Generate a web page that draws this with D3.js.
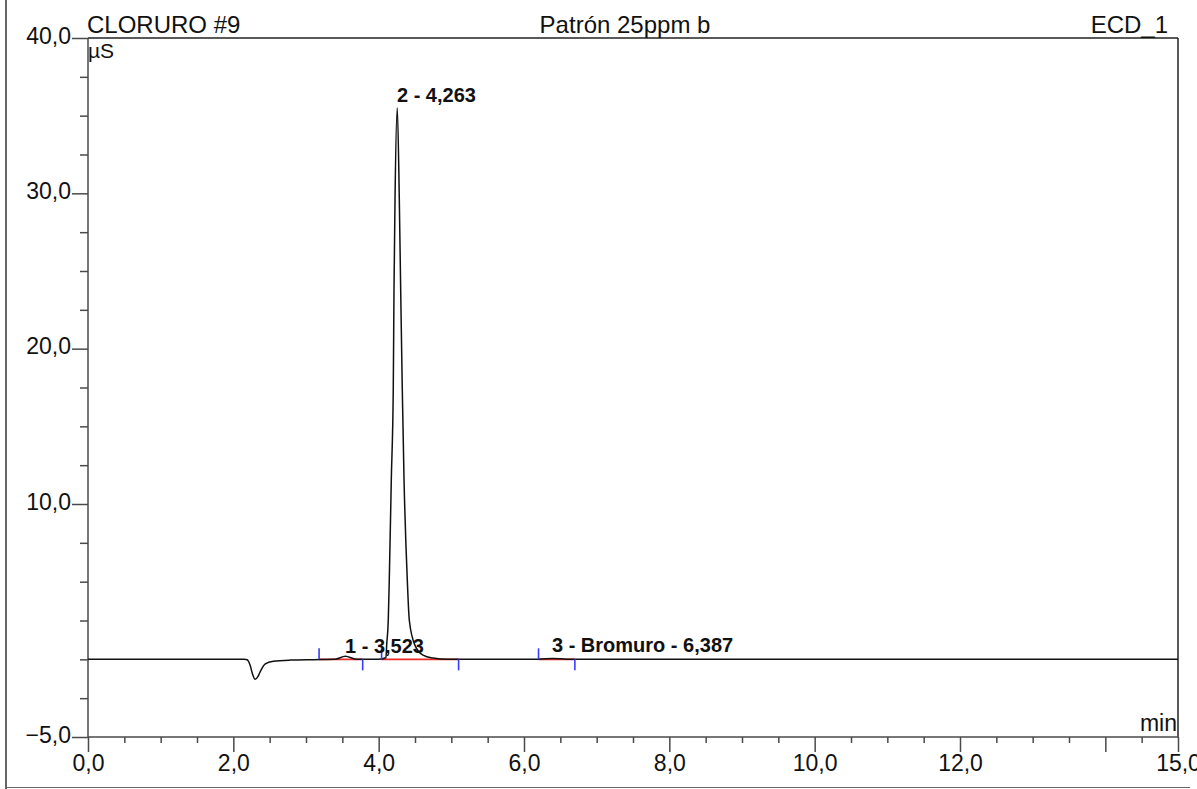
<!DOCTYPE html>
<html>
<head>
<meta charset="utf-8">
<script src="https://cdn.jsdelivr.net/npm/d3@7"></script>
<style>
  html, body { margin: 0; padding: 0; background: #fff; }
  svg { display: block; }
  text { font-family: "Liberation Sans", Arial, sans-serif; fill: #111; }
</style>
</head>
<body>
<svg id="chart" width="1197" height="789"></svg>
<script>
// ---- Data ----
const timeMin = [0, 2.0, 2.15, 2.19, 2.23, 2.26, 2.30, 2.34, 2.37, 2.44, 2.55, 2.78, 3.1,
  3.4, 3.54, 3.7, 4.0, 4.10, 4.11, 4.132, 4.146, 4.174, 4.201, 4.211, 4.225, 4.256,
  4.284, 4.303, 4.325, 4.349, 4.394, 4.422, 4.50, 4.61, 4.75, 4.95, 6.2, 6.39, 6.6, 15];
const signalUS = [0, 0, 0, -0.03, -0.37, -0.88, -1.29, -1.1, -0.8, -0.3, -0.13, -0.05, -0.02,
  0.0, 0.2, 0.0, 0.0, 0.1, 0.9, 2.5, 5.1, 11.6, 17.4, 23.8, 29.6, 35.5,
  29.6, 23.8, 17.4, 11.6, 5.1, 2.5, 0.9, 0.27, 0.08, 0.0, 0.0, 0.06, 0.0, 0.0];

const peakNames = ["1 - 3,523", "2 - 4,263", "3 - Bromuro - 6,387"];
const peakLabelTime = [3.537, 4.252, 6.385];
const peakLabelValue = [0.39, 35.86, 0.45];
const peakStart = [3.18, 4.04, 6.20];
const peakEnd = [3.78, 5.10, 6.70];

const xMajorTicks = [0, 2, 4, 6, 8, 10, 12, 14, 15];
const xLabelTicks = [0, 2, 4, 6, 8, 10, 12, 15];
const yMajorTicks = [-5, 10, 20, 30, 40];
const xDomain = [0, 15];
const yDomain = [-5, 40];

const titleLeft = "CLORURO #9";
const titleCenter = "Patrón 25ppm b";
const titleRight = "ECD_1";
const yUnit = "µS";
const xUnit = "min";

// ---- Drawing ----
const svg = d3.select("#chart");
const x = d3.scaleLinear().domain(xDomain).range([88, 1178]);
const y = d3.scaleLinear().domain(yDomain).range([737, 38]);
const fmt = v => d3.format(".1f")(v).replace(".", ",");
const axisColor = "#4a4a4a";

// outer frame lines
svg.append("line").attr("x1", 6).attr("x2", 6).attr("y1", 0).attr("y2", 789)
  .attr("stroke", "#333").attr("stroke-width", 1.5);
svg.append("line").attr("x1", 6).attr("x2", 1190).attr("y1", 787.5).attr("y2", 787.5)
  .attr("stroke", "#666").attr("stroke-width", 1.2);

// minor ticks
const xMinor = d3.range(0, 15.001, 0.5).filter(v => !xMajorTicks.includes(v));
const yMinor = d3.range(-5, 40.001, 2.5).filter(v => !yMajorTicks.includes(v));

const gxMinor = svg.append("g").attr("transform", `translate(0,${y(-5)})`)
  .call(d3.axisBottom(x).tickValues(xMinor).tickSize(6).tickFormat(""));
const gx = svg.append("g").attr("transform", `translate(0,${y(-5)})`)
  .call(d3.axisBottom(x).tickValues(xMajorTicks).tickSize(15)
    .tickFormat(v => xLabelTicks.includes(v) ? fmt(v) : "").tickPadding(3));
const gyMinor = svg.append("g").attr("transform", `translate(${x(0)},0)`)
  .call(d3.axisLeft(y).tickValues(yMinor).tickSize(8).tickFormat(""));
const gy = svg.append("g").attr("transform", `translate(${x(0)},0)`)
  .call(d3.axisLeft(y).tickValues(yMajorTicks).tickSize(16).tickFormat(fmt).tickPadding(1));

[gxMinor, gx, gyMinor, gy].forEach(g => {
  g.select(".domain").remove();
  g.selectAll(".tick line").attr("stroke", axisColor).attr("stroke-width", 1.5);
  g.selectAll("text").style("font-size", "23px").attr("fill", "#111")
    .style("font-family", '"Liberation Sans", Arial, sans-serif');
});
gx.selectAll("text").attr("dy", "0.71em");
gy.selectAll("text").attr("dy", "0.22em");

// plot box
const box = svg.append("g").attr("stroke", axisColor).attr("stroke-width", 1.5).attr("fill", "none");
box.append("line").attr("x1", x(0)).attr("x2", x(15)).attr("y1", y(40)).attr("y2", y(40)).attr("stroke", "#222");
box.append("line").attr("x1", x(15)).attr("x2", x(15)).attr("y1", y(40)).attr("y2", y(-5)).attr("stroke", "#222");
box.append("line").attr("x1", x(0)).attr("x2", x(15)).attr("y1", y(-5)).attr("y2", y(-5));
box.append("line").attr("x1", x(0)).attr("x2", x(0)).attr("y1", y(40)).attr("y2", y(-5));

// integration baselines (red)
peakStart.forEach((s, i) => {
  svg.append("line").attr("x1", x(s)).attr("x2", x(peakEnd[i])).attr("y1", y(0)).attr("y2", y(0))
    .attr("stroke", "#ee2a2a").attr("stroke-width", 1.8);
});

// chromatogram
const pts = timeMin.map((t, i) => [t, signalUS[i]]);
svg.append("path").datum(pts)
  .attr("fill", "none").attr("stroke", "#111").attr("stroke-width", 1.5)
  .attr("d", d3.line().x(d => x(d[0])).y(d => y(d[1])).curve(d3.curveMonotoneX));

// peak delimiters (blue)
peakStart.forEach((s, i) => {
  svg.append("line").attr("x1", x(s)).attr("x2", x(s)).attr("y1", y(0) - 11).attr("y2", y(0))
    .attr("stroke", "#3a3aff").attr("stroke-width", 1.6);
  svg.append("line").attr("x1", x(peakEnd[i])).attr("x2", x(peakEnd[i])).attr("y1", y(0)).attr("y2", y(0) + 11)
    .attr("stroke", "#3a3aff").attr("stroke-width", 1.6);
});

// peak labels
peakNames.forEach((n, i) => {
  svg.append("text").attr("x", x(peakLabelTime[i])).attr("y", y(peakLabelValue[i]))
    .style("font-size", "20px").style("font-weight", "bold").text(n);
});

// titles
svg.append("text").attr("x", 87).attr("y", 33).style("font-size", "24px").text(titleLeft);
svg.append("text").attr("x", 625).attr("y", 33).attr("text-anchor", "middle").style("font-size", "24px").text(titleCenter);
svg.append("text").attr("x", 1168).attr("y", 33).attr("text-anchor", "end").style("font-size", "24px").text(titleRight);
svg.append("text").attr("x", 88).attr("y", 58).style("font-size", "21px").text(yUnit);
svg.append("text").attr("x", 1177).attr("y", 731).attr("text-anchor", "end").style("font-size", "23px").text(xUnit);
</script>
</body>
</html>
